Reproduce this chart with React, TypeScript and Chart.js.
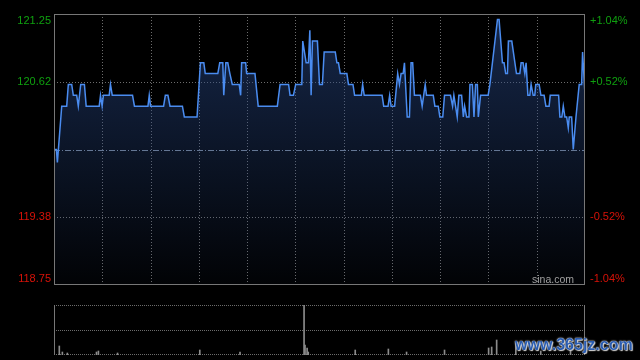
import React, { useEffect, useRef } from 'react';
import { Chart, registerables } from 'chart.js';
Chart.register(...registerables);

// minutes since open (0..330) and last price
const minutes = [
  0, 1.5, 2.1, 4.8, 7.9, 8.9, 11.0, 12.0, 14.1, 15.1,
  16.6, 18.9, 20.0, 28.1, 28.9, 29.9, 30.7, 34.3, 35.1, 36.2,
  48.8, 50.0, 58.4, 59.2, 60.0, 68.1, 69.2, 70.8, 72.1, 79.8,
  81.0, 88.9, 91.0, 93.1, 94.0, 101.8, 103.0, 104.9, 105.5, 106.8,
  108.0, 109.3, 110.8, 115.1, 116.0, 116.6, 119.1, 119.7, 124.9, 126.9,
  138.8, 140.5, 145.8, 146.7, 148.8, 150.2, 154.0, 154.6, 156.7, 158.1,
  159.0, 159.8, 160.6, 163.7, 165.0, 166.8, 167.9, 174.8, 175.8, 176.8,
  177.9, 182.0, 183.0, 185.8, 186.8, 191.0, 191.8, 192.8, 203.9, 204.9,
  207.6, 208.6, 209.5, 211.7, 213.6, 214.7, 215.7, 217.0, 217.8, 219.5,
  220.9, 221.9, 222.9, 224.0, 227.7, 228.8, 230.7, 231.5, 235.7, 236.7,
  238.8, 239.8, 241.6, 242.7, 246.4, 247.7, 248.5, 250.6, 251.6, 253.3,
  254.4, 255.2, 256.4, 257.9, 258.5, 260.0, 261.0, 262.0, 263.1, 263.7,
  265.1, 269.8, 270.9, 275.6, 276.6, 278.7, 279.7, 280.7, 281.8, 282.4,
  284.5, 287.4, 289.5, 290.3, 291.5, 292.6, 293.4, 294.5, 295.7, 296.5,
  297.8, 298.8, 299.4, 301.5, 302.6, 304.6, 305.7, 307.7, 308.4, 313.6,
  314.4, 315.6, 316.5, 317.5, 318.6, 319.6, 320.2, 321.7, 322.7, 324.4,
  326.4, 327.9, 328.5, 330,
];
const prices = [
  120.0, 120.0, 119.88, 120.4, 120.4, 120.6, 120.6, 120.5, 120.5, 120.4,
  120.6, 120.6, 120.4, 120.4, 120.5, 120.4, 120.5, 120.5, 120.6, 120.5,
  120.5, 120.4, 120.4, 120.5, 120.4, 120.4, 120.5, 120.5, 120.4, 120.4,
  120.3, 120.3, 120.8, 120.8, 120.7, 120.7, 120.8, 120.8, 120.5, 120.8,
  120.8, 120.7, 120.6, 120.6, 120.5, 120.8, 120.8, 120.7, 120.7, 120.4,
  120.4, 120.6, 120.6, 120.5, 120.5, 120.6, 120.6, 121.0, 120.8, 120.8,
  121.1, 120.5, 121.0, 121.0, 120.6, 120.6, 120.9, 120.9, 120.8, 120.8,
  120.7, 120.7, 120.6, 120.6, 120.5, 120.5, 120.6, 120.5, 120.5, 120.4,
  120.4, 120.5, 120.4, 120.4, 120.7, 120.6, 120.7, 120.7, 120.8, 120.3,
  120.3, 120.8, 120.8, 120.5, 120.5, 120.4, 120.6, 120.5, 120.5, 120.4,
  120.4, 120.3, 120.3, 120.5, 120.5, 120.4, 120.5, 120.3, 120.5, 120.5,
  120.3, 120.4, 120.3, 120.3, 120.6, 120.6, 120.3, 120.6, 120.6, 120.3,
  120.5, 120.5, 120.6, 121.2, 121.2, 120.8, 120.8, 120.7, 120.7, 121.0,
  121.0, 120.7, 120.7, 120.8, 120.8, 120.7, 120.8, 120.5, 120.5, 120.6,
  120.5, 120.5, 120.6, 120.6, 120.5, 120.5, 120.4, 120.4, 120.5, 120.5,
  120.3, 120.3, 120.4, 120.3, 120.3, 120.2, 120.3, 120.3, 120.0, 120.3,
  120.6, 120.6, 120.9, 120.5,
];

// volume bars (relative units, panel max = 100)
const volMinutes = [3.3, 5.2, 8.3, 26.4, 27.6, 39.5, 90.6, 115.6, 155.4, 156.0, 157.3, 158.0, 187.2, 207.8, 219.1, 242.7, 270.1, 272.0, 275.1, 287.0, 302.5, 321.0];
const volumes = [18, 6, 4, 6, 8, 4, 10, 6, 100, 20, 14, 6, 10, 12, 6, 10, 14, 16, 30, 24, 8, 10];

const PREV_CLOSE = 120.0;
const PRICE_MIN = 118.75;
const PRICE_MAX = 121.25;
const TOTAL_MINUTES = 330;
const gridMinutes = [30, 60, 90, 120, 150, 180, 210, 240, 270, 300];
const gridPrices = [120.62, 119.38];
const tickValues = [121.25, 120.62, 119.38, 118.75];
const priceLabels = ['121.25', '120.62', '119.38', '118.75'];
const pctLabels = ['+1.04%', '+0.52%', '-0.52%', '-1.04%'];

const FONT = '"Liberation Sans", Arial, sans-serif';
const GRID = '#6c6c6c';
const BORDER = '#777777';
const UP = '#0fa00f';
const DOWN = '#d81208';

const pricePlugin = {
  id: 'priceDeco',
  beforeDatasetsDraw(chart: any) {
    const { ctx, chartArea } = chart;
    const { left, right, top, bottom } = chartArea;
    const xs = chart.scales.x;
    const ys = chart.scales.y;
    ctx.save();
    ctx.lineWidth = 1;
    ctx.strokeStyle = GRID;
    ctx.setLineDash([1, 2]);
    gridMinutes.forEach((m) => {
      const px = Math.round(xs.getPixelForValue(m)) + 0.5;
      ctx.beginPath();
      ctx.moveTo(px, top);
      ctx.lineTo(px, bottom);
      ctx.stroke();
    });
    gridPrices.forEach((p) => {
      const py = Math.round(ys.getPixelForValue(p)) + 0.5;
      ctx.beginPath();
      ctx.moveTo(left, py);
      ctx.lineTo(right, py);
      ctx.stroke();
    });
    ctx.strokeStyle = '#7d8a9a';
    ctx.setLineDash([6, 2, 1, 2]);
    const my = Math.round(ys.getPixelForValue(PREV_CLOSE)) + 0.5;
    ctx.beginPath();
    ctx.moveTo(left, my);
    ctx.lineTo(right, my);
    ctx.stroke();
    ctx.restore();
  },
  afterDraw(chart: any) {
    const { ctx, chartArea } = chart;
    const { left, right, top, bottom } = chartArea;
    const ys = chart.scales.y;
    ctx.save();
    ctx.setLineDash([]);
    ctx.strokeStyle = BORDER;
    ctx.lineWidth = 1;
    ctx.strokeRect(left + 0.5, top + 0.5, right - left - 1, bottom - top - 1);
    ctx.font = '11px ' + FONT;
    ctx.textBaseline = 'middle';
    tickValues.forEach((v, i) => {
      let py = ys.getPixelForValue(v);
      py = Math.min(Math.max(py, top + 6.5), bottom - 6.5);
      ctx.fillStyle = v > PREV_CLOSE ? UP : DOWN;
      ctx.textAlign = 'right';
      ctx.fillText(priceLabels[i], left - 3, py);
      ctx.textAlign = 'left';
      ctx.fillText(pctLabels[i], right + 5, py);
    });
    ctx.fillStyle = '#a0a0a0';
    ctx.font = '10.5px ' + FONT;
    ctx.textAlign = 'right';
    ctx.fillText('sina.com', right - 11, bottom - 5);
    ctx.restore();
  },
};

const volPlugin = {
  id: 'volDeco',
  beforeDatasetsDraw(chart: any) {
    const { ctx, chartArea } = chart;
    const { left, right, top, bottom } = chartArea;
    ctx.save();
    ctx.lineWidth = 1;
    ctx.strokeStyle = GRID;
    ctx.setLineDash([1, 1]);
    const ys = chart.scales.y;
    [100, 50, 0].forEach((v) => {
      let py = Math.round(ys.getPixelForValue(v)) + 0.5;
      if (py > bottom) py = bottom - 0.5;
      ctx.beginPath();
      ctx.moveTo(left, py);
      ctx.lineTo(right, py);
      ctx.stroke();
    });
    ctx.setLineDash([]);
    ctx.strokeStyle = BORDER;
    [left + 0.5, right - 0.5].forEach((px) => {
      ctx.beginPath();
      ctx.moveTo(px, top);
      ctx.lineTo(px, bottom);
      ctx.stroke();
    });
    ctx.restore();
  },
};

export default function App() {
  const priceRef = useRef<HTMLCanvasElement>(null);
  const volRef = useRef<HTMLCanvasElement>(null);

  useEffect(() => {
    const priceChart = new Chart(priceRef.current as HTMLCanvasElement, {
      type: 'line',
      data: {
        datasets: [
          {
            data: minutes.map((m, i) => ({ x: m, y: prices[i] })),
            borderColor: '#4a8cf0',
            borderWidth: 1.5,
            pointRadius: 0,
            tension: 0,
            fill: 'start',
            backgroundColor: (c: any) => {
              const area = c.chart.chartArea;
              if (!area) return 'rgba(30,60,120,0.3)';
              const g = c.chart.ctx.createLinearGradient(0, area.top, 0, area.bottom);
              g.addColorStop(0, 'rgba(40,72,135,0.55)');
              g.addColorStop(1, 'rgba(40,72,135,0.04)');
              return g;
            },
          },
        ],
      },
      options: {
        animation: false,
        responsive: false,
        maintainAspectRatio: false,
        events: [],
        layout: { padding: { left: 54, right: 55, top: 14, bottom: 75 } },
        scales: {
          x: { type: 'linear', min: 0, max: TOTAL_MINUTES, display: false },
          y: { type: 'linear', min: PRICE_MIN, max: PRICE_MAX, display: false },
        },
        plugins: { legend: { display: false }, tooltip: { enabled: false } },
      } as any,
      plugins: [pricePlugin],
    });

    const volChart = new Chart(volRef.current as HTMLCanvasElement, {
      type: 'bar',
      data: {
        datasets: [
          {
            data: volMinutes.map((m, i) => ({ x: m, y: volumes[i] })),
            backgroundColor: '#8c8c8c',
            barThickness: 1,
          },
        ],
      },
      options: {
        animation: false,
        responsive: false,
        maintainAspectRatio: false,
        events: [],
        layout: { padding: { left: 54, right: 55, top: 305, bottom: 5 } },
        scales: {
          x: { type: 'linear', min: 0, max: TOTAL_MINUTES, offset: false, display: false },
          y: { type: 'linear', min: 0, max: 100, display: false },
        },
        plugins: { legend: { display: false }, tooltip: { enabled: false } },
      } as any,
      plugins: [volPlugin],
    });

    return () => {
      priceChart.destroy();
      volChart.destroy();
    };
  }, []);

  return (
    <div style={{ position: 'fixed', left: 0, top: 0, width: 640, height: 360, background: '#000', overflow: 'hidden' }}>
      <canvas ref={volRef} width={640} height={360} style={{ position: 'absolute', left: 0, top: 0, width: 640, height: 360 }} />
      <canvas ref={priceRef} width={640} height={360} style={{ position: 'absolute', left: 0, top: 0, width: 640, height: 360 }} />
      <div
        style={{
          position: 'absolute',
          left: 515,
          top: 336,
          fontFamily: '"Liberation Sans", Arial, sans-serif',
          fontWeight: 'bold',
          fontSize: 16,
          color: '#2a5cb0',
          textShadow: '0 0 1px #fff, 0 0 2px #ddd, 1px 1px 1px #ccc',
          whiteSpace: 'nowrap',
          lineHeight: '18px',
        }}
      >
        www.365jz.com
      </div>
    </div>
  );
}
